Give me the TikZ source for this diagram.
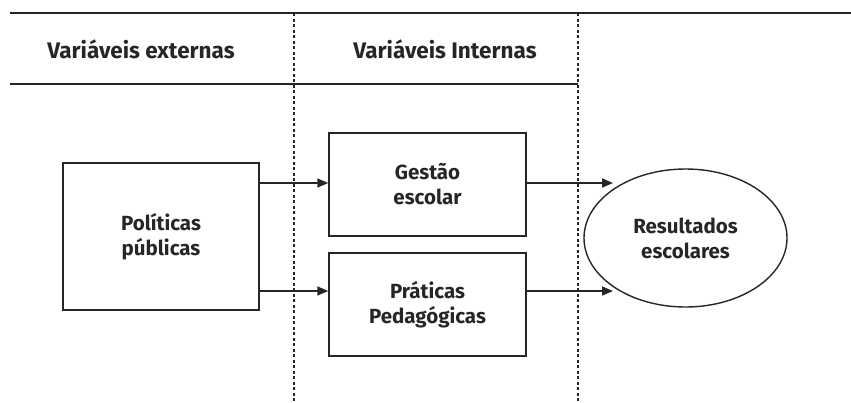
\documentclass[tikz,border=0pt]{standalone}
\usepackage{fontspec}
\setmainfont{Fira Sans}
\usetikzlibrary{shapes.geometric,arrows.meta}
\begin{document}
\begin{tikzpicture}[x=1pt,y=-1pt,
  rule/.style={line width=1.4pt,draw=black!85},
  sep/.style={line width=1.2pt,draw=black!85,dash pattern=on 3pt off 2.5pt},
  boxs/.style={draw=black!85,line width=1.4pt,minimum width=#1,align=center,inner sep=0pt,font=\fontsize{20.5}{25}\selectfont\bfseries,text=black!85},
  hdr/.style={font=\fontsize{22.5}{26}\selectfont\bfseries,text=black!85,inner sep=0pt},
  arr/.style={line width=1.6pt,draw=black!85,-{Triangle[length=11pt,width=9pt]}}]
\useasboundingbox (0,0) rectangle (851,402);
\coordinate (tl) at (10,13);
\coordinate (tr) at (851,13);
\coordinate (hl) at (10,84);
\coordinate (hr) at (578,84);
\coordinate (d1t) at (294,13);
\coordinate (d1b) at (294,402);
\coordinate (d2t) at (578,13);
\coordinate (d2b) at (578,402);
\draw[rule] (tl) -- (tr);
\draw[rule] (hl) -- (hr);
\draw[sep] (d1t) -- (d1b);
\draw[sep] (d2t) -- (d2b);
\node[hdr] (h1) at (141,49) {Variáveis externas};
\node[hdr] (h2) at (445,49) {Variáveis Internas};
\node[boxs=196pt,minimum height=147pt] (pp) at (161,236.5) {Políticas\\públicas};
\node[boxs=197pt,minimum height=103pt] (ge) at (427.5,184.5) {Gestão\\escolar};
\node[boxs=197pt,minimum height=103pt] (pr) at (427.5,304.5) {Práticas\\Pedagógicas};
\node[draw=black!85,line width=1.4pt,ellipse,minimum width=203pt,minimum height=138pt,inner sep=0pt,align=center,font=\fontsize{20.5}{25}\selectfont\bfseries,text=black!85] (re) at (685.5,238) {Resultados\\escolares};
\draw[arr] (pp.east |- 0,183) -- (ge.west |- 0,183);
\draw[arr] (pp.east |- 0,291) -- (pr.west |- 0,291);
\draw[arr] (ge.east |- 0,183) -- (613,183) coordinate (a1);
\draw[arr] (pr.east |- 0,291) -- (613,291) coordinate (a2);
\end{tikzpicture}
\end{document}
